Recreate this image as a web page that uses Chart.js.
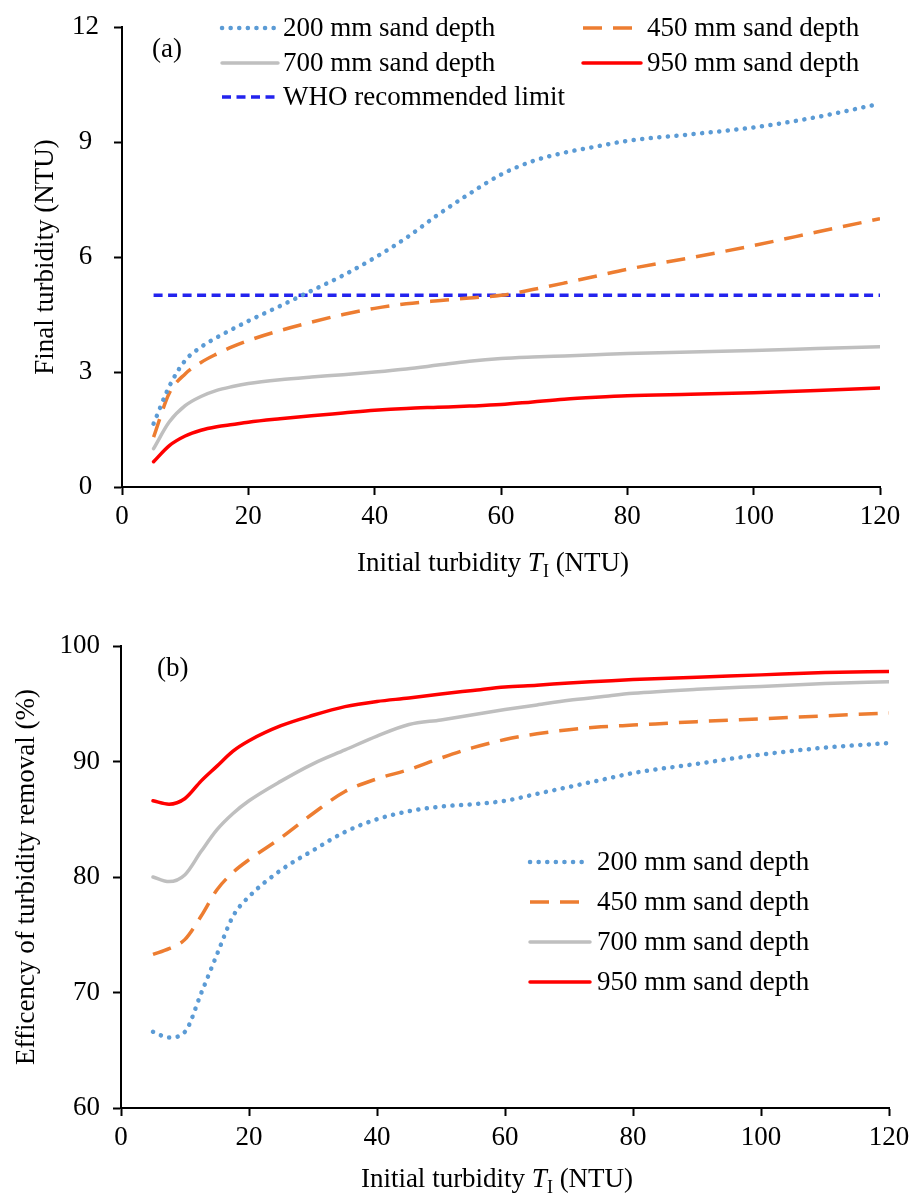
<!DOCTYPE html>
<html>
<head>
<meta charset="utf-8">
<script src="https://cdn.jsdelivr.net/npm/chart.js@4.4.0/dist/chart.umd.min.js"></script>
<style>
  body { margin: 0; background: #fff; }
  .box { position: relative; width: 912px; height: 597px; }
</style>
</head>
<body>
<div class="box"><canvas id="chartA" width="912" height="597"></canvas></div>
<div class="box"><canvas id="chartB" width="912" height="597"></canvas></div>
<script>
// Initial turbidity (NTU), shared by both panels
const initial = [5, 7.5, 10, 12.5, 15, 17.5, 20, 25, 30, 35, 40, 45, 50, 55, 60, 65, 70, 75, 80, 90, 100, 110, 120];

// (a) final turbidity (NTU)
const final200 = [1.65, 2.63, 3.3, 3.65, 3.9, 4.12, 4.33, 4.72, 5.12, 5.52, 5.98, 6.5, 7.1, 7.65, 8.15, 8.5, 8.72, 8.88, 9.03, 9.2, 9.38, 9.65, 10.0];
const final450 = [1.3, 2.45, 2.95, 3.25, 3.47, 3.66, 3.82, 4.08, 4.3, 4.5, 4.66, 4.78, 4.86, 4.93, 5.0, 5.15, 5.32, 5.5, 5.68, 5.98, 6.3, 6.65, 7.0];
const final700 = [1.0, 1.7, 2.12, 2.36, 2.52, 2.62, 2.7, 2.8, 2.87, 2.93, 3.0, 3.08, 3.18, 3.28, 3.35, 3.39, 3.42, 3.45, 3.48, 3.52, 3.56, 3.61, 3.66];
const final950 = [0.66, 1.08, 1.33, 1.48, 1.57, 1.63, 1.69, 1.78, 1.86, 1.93, 2.0, 2.05, 2.08, 2.11, 2.15, 2.22, 2.29, 2.34, 2.38, 2.42, 2.46, 2.52, 2.58];
const whoX = [5, 120];
const whoLimit = [5, 5];

// (b) efficiency of turbidity removal (%)
const eff200 = [66.6, 66.1, 66.6, 69.9, 73.3, 76.6, 78.3, 80.6, 82.3, 83.9, 85.0, 85.7, 86.1, 86.3, 86.6, 87.2, 87.8, 88.4, 89.0, 89.8, 90.6, 91.2, 91.6];
const eff450 = [73.3, 73.8, 74.6, 76.6, 78.9, 80.4, 81.5, 83.4, 85.5, 87.4, 88.5, 89.3, 90.3, 91.2, 91.9, 92.4, 92.75, 93.0, 93.15, 93.45, 93.7, 93.95, 94.2];
const eff700 = [80.0, 79.6, 80.2, 82.2, 84.1, 85.5, 86.6, 88.3, 89.8, 91.0, 92.2, 93.2, 93.6, 94.05, 94.5, 94.9, 95.3, 95.6, 95.9, 96.25, 96.5, 96.75, 96.9];
const eff950 = [86.6, 86.3, 86.8, 88.3, 89.6, 90.9, 91.8, 93.1, 94.0, 94.75, 95.2, 95.5, 95.85, 96.15, 96.45, 96.6, 96.8, 96.95, 97.1, 97.3, 97.5, 97.7, 97.8];

const xTicks = { min: 0, max: 120, step: 20 };

const serif = "'Liberation Serif', 'Times New Roman', serif";
Chart.defaults.font.family = serif;
Chart.defaults.font.size = 27;
Chart.defaults.color = '#000';

function pts(xs, ys) {
    return xs.map((x, i) => ({ x: x, y: ys[i] }));
}

// line styles of the four sand depths
const styles = {
    d200: { borderColor: '#5B9BD5', borderWidth: 4.5, borderDash: [0.1, 8.5], borderCapStyle: 'round' },
    d450: { borderColor: '#ED7D31', borderWidth: 3.5, borderDash: [19, 11], borderCapStyle: 'butt' },
    d700: { borderColor: '#BFBFBF', borderWidth: 3.5, borderDash: [], borderCapStyle: 'round' },
    d950: { borderColor: '#FF0000', borderWidth: 3.5, borderDash: [], borderCapStyle: 'round' },
    who:  { borderColor: '#2323EE', borderWidth: 3.5, borderDash: [9, 5.5], borderCapStyle: 'butt' },
};

function ds(label, data, st) {
    return Object.assign({
        label: label,
        data: data,
        pointRadius: 0,
        fill: false,
        cubicInterpolationMode: 'monotone',
    }, st);
}

// draws the x axis title with italic T and subscript I
function drawXTitle(chart, baseline) {
    const ctx = chart.ctx;
    const area = chart.chartArea;
    const parts = [
        { t: 'Initial turbidity ', f: '27px ' + serif, dy: 0 },
        { t: 'T', f: 'italic 27px ' + serif, dy: 0 },
        { t: 'I', f: '18px ' + serif, dy: 6 },
        { t: ' (NTU)', f: '27px ' + serif, dy: 0 },
    ];
    ctx.save();
    ctx.fillStyle = '#000';
    ctx.textBaseline = 'alphabetic';
    let w = 0;
    parts.forEach(p => { ctx.font = p.f; p.w = ctx.measureText(p.t).width; w += p.w; });
    let x = (area.left + area.right) / 2 - w / 2 - 8;
    parts.forEach(p => { ctx.font = p.f; ctx.fillText(p.t, x, baseline + p.dy); x += p.w; });
    ctx.restore();
}

function drawLegend(chart, items) {
    const ctx = chart.ctx;
    ctx.save();
    items.forEach(it => {
        const d = chart.data.datasets[it.index];
        ctx.strokeStyle = d.borderColor;
        ctx.lineWidth = d.borderWidth;
        ctx.setLineDash(d.borderDash || []);
        ctx.lineCap = d.borderCapStyle || 'butt';
        ctx.beginPath();
        ctx.moveTo(it.x, it.y);
        ctx.lineTo(it.x + it.len, it.y);
        ctx.stroke();
        ctx.setLineDash([]);
        ctx.fillStyle = '#000';
        ctx.font = '27px ' + serif;
        ctx.textBaseline = 'middle';
        ctx.textAlign = 'left';
        ctx.fillText(d.label, it.x + it.len + it.gap, it.y + 1);
    });
    ctx.restore();
}

function panelLabel(chart, text, x, y) {
    const ctx = chart.ctx;
    ctx.save();
    ctx.fillStyle = '#000';
    ctx.font = '27px ' + serif;
    ctx.textBaseline = 'middle';
    ctx.fillText(text, x, y);
    ctx.restore();
}

function axisX(height) {
    return {
        type: 'linear',
        min: xTicks.min,
        max: xTicks.max,
        ticks: { stepSize: xTicks.step, padding: 6, maxRotation: 0 },
        grid: { drawOnChartArea: false, drawTicks: true, tickLength: 8, tickWidth: 2, tickColor: '#000' },
        border: { color: '#000', width: 2 },
        afterFit(s) { s.height = height; s.paddingLeft = 0; s.paddingRight = 0; },
    };
}

function axisY(min, max, step, title, width, titlePad, labelPad, align) {
    return {
        min: min,
        max: max,
        ticks: { stepSize: step, padding: labelPad, crossAlign: align },
        grid: { drawOnChartArea: false, drawTicks: true, tickLength: 8, tickWidth: 2, tickColor: '#000' },
        border: { color: '#000', width: 2 },
        title: { display: true, text: title, padding: { top: titlePad, bottom: 0 } },
        afterFit(s) { s.width = width; s.paddingTop = 0; s.paddingBottom = 0; },
    };
}

// Chart (a)
new Chart(document.getElementById('chartA'), {
    type: 'line',
    data: {
        datasets: [
            ds('200 mm sand depth', pts(initial, final200), styles.d200),
            ds('450 mm sand depth', pts(initial, final450), styles.d450),
            ds('700 mm sand depth', pts(initial, final700), styles.d700),
            ds('950 mm sand depth', pts(initial, final950), styles.d950),
            ds('WHO recommended limit', pts(whoX, whoLimit), styles.who),
        ]
    },
    options: {
        responsive: false,
        animation: false,
        layout: { padding: { left: 0, top: 27, right: 32, bottom: 0 } },
        plugins: { legend: { display: false }, tooltip: { enabled: false } },
        scales: {
            x: axisX(110),
            y: axisY(0, 12, 3, 'Final turbidity (NTU)', 122, 30, 15, 'center'),
        },
    },
    plugins: [{
        id: 'extrasA',
        afterDraw(chart) {
            drawLegend(chart, [
                { index: 0, x: 222, y: 28, len: 56, gap: 5 },
                { index: 1, x: 583, y: 28, len: 58, gap: 6 },
                { index: 2, x: 222, y: 63, len: 56, gap: 5 },
                { index: 3, x: 583, y: 63, len: 58, gap: 6 },
                { index: 4, x: 222, y: 97, len: 56, gap: 5 },
            ]);
            panelLabel(chart, '(a)', 152, 50);
            drawXTitle(chart, 571);
        }
    }]
});

// Chart (b)
new Chart(document.getElementById('chartB'), {
    type: 'line',
    data: {
        datasets: [
            ds('200 mm sand depth', pts(initial, eff200), styles.d200),
            ds('450 mm sand depth', pts(initial, eff450), styles.d450),
            ds('700 mm sand depth', pts(initial, eff700), styles.d700),
            ds('950 mm sand depth', pts(initial, eff950), styles.d950),
        ]
    },
    options: {
        responsive: false,
        animation: false,
        layout: { padding: { left: 0, top: 49, right: 23, bottom: 0 } },
        plugins: { legend: { display: false }, tooltip: { enabled: false } },
        scales: {
            x: axisX(86),
            y: axisY(60, 100, 10, 'Efficency of turbidity removal (%)', 121, 11, 13, 'near'),
        },
    },
    plugins: [{
        id: 'extrasB',
        afterDraw(chart) {
            drawLegend(chart, [
                { index: 0, x: 530, y: 265, len: 60, gap: 7 },
                { index: 1, x: 530, y: 305, len: 60, gap: 7 },
                { index: 2, x: 530, y: 345, len: 60, gap: 7 },
                { index: 3, x: 530, y: 385, len: 60, gap: 7 },
            ]);
            panelLabel(chart, '(b)', 157, 72);
            drawXTitle(chart, 590);
        }
    }]
});
</script>
</body>
</html>
